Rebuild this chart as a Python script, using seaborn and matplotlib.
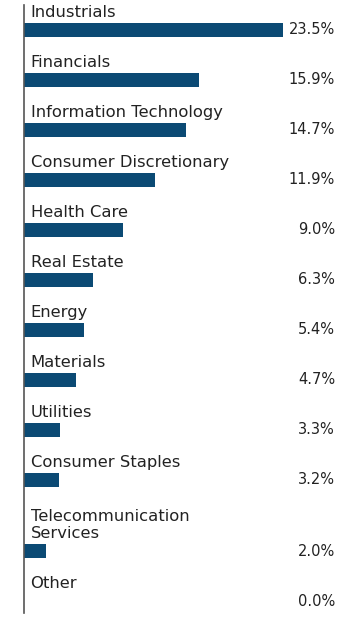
import matplotlib
matplotlib.use("Agg")
import matplotlib.pyplot as plt
import numpy as np
import pandas as pd
import seaborn as sns

sectors = [
    "Industrials",
    "Financials",
    "Information Technology",
    "Consumer Discretionary",
    "Health Care",
    "Real Estate",
    "Energy",
    "Materials",
    "Utilities",
    "Consumer Staples",
    "Telecommunication\nServices",
    "Other",
]
weights = [23.5, 15.9, 14.7, 11.9, 9.0, 6.3, 5.4, 4.7, 3.3, 3.2, 2.0, 0.0]

BAR_COLOR = "#0b4a74"
TEXT_COLOR = "#222222"

# row positions: one unit per row, plus extra room for wrapped labels
extra_lines = np.array([s.count("\n") for s in sectors])
pos = np.arange(len(sectors)) + 0.5 + 0.42 * np.cumsum(extra_lines)
df = pd.DataFrame({"sector": sectors, "weight": weights, "pos": pos})

sns.set_theme(style="white")
plt.rcParams["font.family"] = ["DejaVu Sans"]

fig = plt.figure(figsize=(3.6, 6.17), dpi=100)
ax = fig.add_axes([24 / 360, 4 / 617, 316 / 360, 608 / 617])

sns.barplot(
    data=df,
    x="weight",
    y="pos",
    orient="h",
    native_scale=True,
    width=0.29,
    color=BAR_COLOR,
    saturation=1,
    linewidth=0,
    ax=ax,
)

ax.set_xlim(0, 316 / 11.02)
ax.set_ylim(pos[-1] + 0.24, 0)

for p, s, w in zip(pos, sectors, weights):
    ax.text(0.6, p - 0.2, s, ha="left", va="bottom", fontsize=11.8,
            color=TEXT_COLOR, linespacing=1.2)
    ax.text(311 / 316, p, f"{w:.1f}%", ha="right", va="center",
            fontsize=10.5, color=TEXT_COLOR, transform=ax.get_yaxis_transform())

ax.set_xticks([])
ax.set_yticks([])
ax.set_xlabel("")
ax.set_ylabel("")
for side in ["top", "right", "bottom"]:
    ax.spines[side].set_visible(False)
ax.spines["left"].set_color("#555555")
ax.spines["left"].set_linewidth(1.2)

fig.savefig("out.png", dpi=100)
plt.close(fig)
